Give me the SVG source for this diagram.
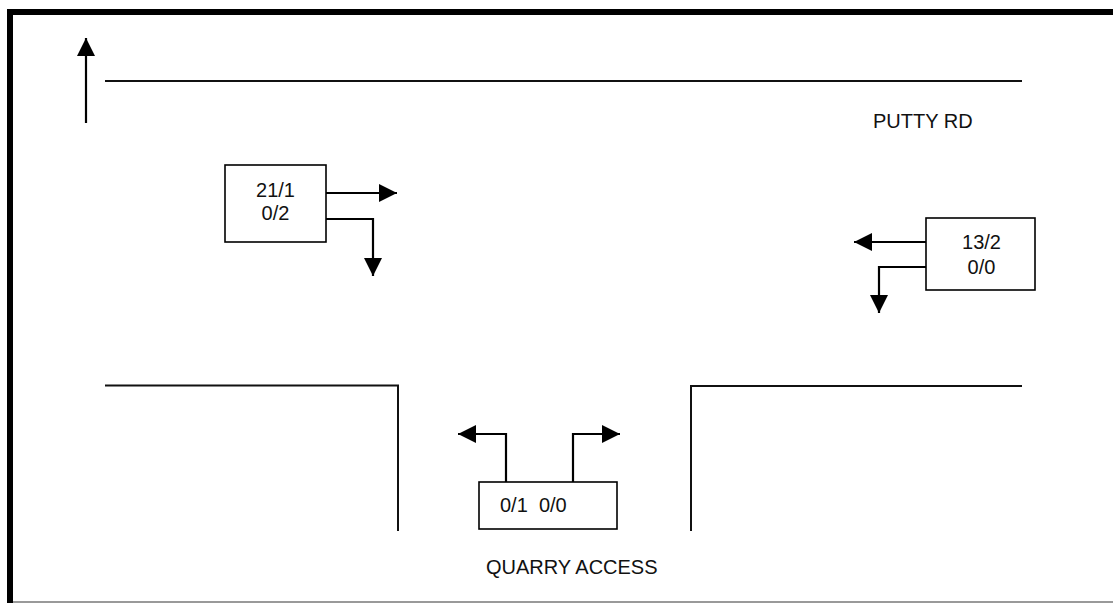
<svg xmlns="http://www.w3.org/2000/svg" width="1113" height="603" viewBox="0 0 1113 603">
<defs>
<style>
.box{fill:#fff;stroke:#000;stroke-width:1.6}
.road{fill:none;stroke:#111;stroke-width:2}
.arr{fill:none;stroke:#000;stroke-width:2.2}
.t{font-family:"Liberation Sans",Arial,sans-serif;font-size:20px;fill:#111}
</style>
<marker id="ah" markerUnits="userSpaceOnUse" markerWidth="18" markerHeight="18" viewBox="0 0 16 16" refX="16" refY="8" orient="auto">
<path d="M0,0 L16,8 L0,16 Z" fill="#000"/>
</marker>
</defs>
<rect x="0" y="0" width="1113" height="603" fill="#fff"/>
<g id="frame">
<rect x="7" y="9" width="1106" height="6" fill="#000"/>
<rect x="7" y="9" width="6" height="594" fill="#000"/>
<line x1="13" y1="602" x2="1113" y2="602" stroke="#999" stroke-width="2"/>
</g>
<g id="roads">
<line class="road" x1="105" y1="81" x2="1022" y2="81"/>
<polyline class="road" points="105,385.5 398,385.5 398,531"/>
<polyline class="road" points="1022,386 691,386 691,531"/>
</g>
<g id="connectors">
<line class="arr" x1="86" y1="123" x2="86" y2="38" marker-end="url(#ah)"/>
<line class="arr" x1="326" y1="193" x2="397" y2="193" marker-end="url(#ah)"/>
<polyline class="arr" points="326,219 373,219 373,276" marker-end="url(#ah)"/>
<line class="arr" x1="926" y1="242" x2="854" y2="242" marker-end="url(#ah)"/>
<polyline class="arr" points="926,267 879,267 879,313" marker-end="url(#ah)"/>
<polyline class="arr" points="506,482 506,434 458,434" marker-end="url(#ah)"/>
<polyline class="arr" points="573,482 573,434 620,434" marker-end="url(#ah)"/>
</g>
<g id="node-west">
<rect class="box" x="225" y="165" width="101" height="77"/>
<text class="t" x="275.5" y="197" text-anchor="middle">21/1</text>
<text class="t" x="275.5" y="220" text-anchor="middle">0/2</text>
</g>
<g id="node-east">
<rect class="box" x="926" y="218" width="109" height="72"/>
<text class="t" x="981.5" y="249" text-anchor="middle">13/2</text>
<text class="t" x="981.5" y="274" text-anchor="middle">0/0</text>
</g>
<g id="node-south">
<rect class="box" x="479" y="482" width="138" height="47"/>
<text class="t" x="500" y="512" xml:space="preserve">0/1  0/0</text>
</g>
<g id="labels">
<text class="t" x="873" y="128">PUTTY RD</text>
<text class="t" x="486" y="574">QUARRY ACCESS</text>
</g>
</svg>
